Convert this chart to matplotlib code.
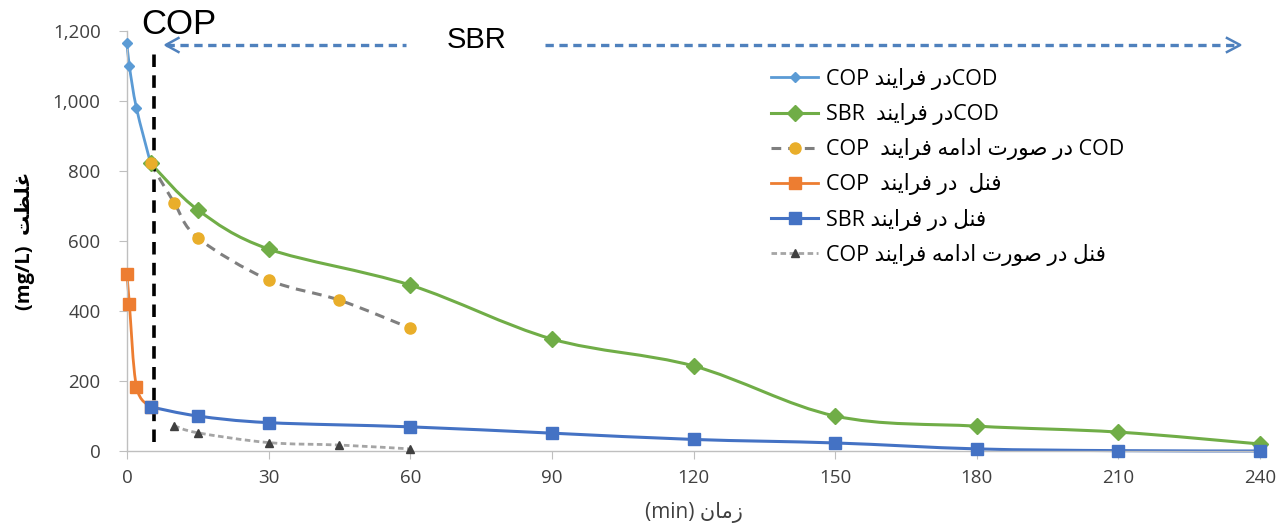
import numpy as np
import matplotlib
matplotlib.use("Agg")
import matplotlib.pyplot as plt
from matplotlib.path import Path
from matplotlib.patches import PathPatch
from matplotlib.lines import Line2D
from matplotlib.ticker import FuncFormatter

plt.rcParams['font.family'] = ['Open Sans', 'DejaVu Sans']
plt.rcParams['lines.scale_dashes'] = False

# Arabic words in presentation forms, visual (left-to-right) order
DAR = "\uFEAD\uFEA9"
FARAYAND = "\uFEAA\uFEE8\uFEF3\uFE8D\uFEAE\uFED3"
FENOL = "\uFEDE\uFEE8\uFED3"
SURAT = "\uFE95\uFEAD\uFEEE\uFEBB"
EDAME = "\uFEEA\uFEE3\uFE8D\uFEA9\uFE8D"
GHELZAT = "\uFE96\uFEC8\uFEE0\uFECF"
ZAMAN = "\uFEE5\uFE8E\uFEE3\uFEAF"

# data (time in min, concentration mg/L)
cod_cop_x = [0, 0.5, 2, 5]
cod_cop_y = [1165, 1100, 980, 822]
cod_sbr_x = [5, 15, 30, 60, 90, 120, 150, 180, 210, 240]
cod_sbr_y = [822, 689, 577, 474, 320, 243, 100, 71, 54, 20]
cod_cont_x = [5, 10, 15, 30, 45, 60]
cod_cont_y = [822, 709, 609, 489, 431, 351]
phe_cop_x = [0, 0.5, 2, 5]
phe_cop_y = [505, 421, 184, 126]
phe_sbr_x = [5, 15, 30, 60, 90, 120, 150, 180, 210, 240]
phe_sbr_y = [126, 100, 81, 69, 51, 33, 23, 6, 1, 0]
phe_cont_x = [10, 15, 30, 45, 60]
phe_cont_y = [72, 52, 24, 17, 6]

labels = [
    "COP " + FARAYAND + " " + DAR + "COD",
    "SBR  " + FARAYAND + " " + DAR + "COD",
    "COP  " + FARAYAND + " " + EDAME + " " + SURAT + " " + DAR + " COD",
    "COP  " + FARAYAND + " " + DAR + "  " + FENOL,
    "SBR " + FARAYAND + " " + DAR + " " + FENOL,
    "COP " + FARAYAND + " " + EDAME + " " + SURAT + " " + DAR + " " + FENOL,
]


def smooth_path(xs, ys):
    pts = np.column_stack([xs, ys]).astype(float)
    n = len(pts)
    verts = [pts[0]]
    codes = [Path.MOVETO]
    for i in range(n - 1):
        p0 = pts[max(i - 1, 0)]
        p1 = pts[i]
        p2 = pts[i + 1]
        p3 = pts[min(i + 2, n - 1)]
        verts += [p1 + (p2 - p0) / 6, p2 - (p3 - p1) / 6, p2]
        codes += [Path.CURVE4] * 3
    return Path(verts, codes)


fig = plt.figure(figsize=(12.77, 5.27), dpi=100)
ax = fig.add_axes([127 / 1277, 76 / 527, 1133 / 1277, 420 / 527])

series = [
    (cod_cop_x, cod_cop_y, dict(color="#5B9BD5", lw=2.0, ls="-"),
     dict(marker="D", ms=5, mfc="#5B9BD5", mec="#5B9BD5")),
    (cod_sbr_x, cod_sbr_y, dict(color="#70AD47", lw=2.2, ls="-"),
     dict(marker="D", ms=8, mfc="#70AD47", mec="#70AD47")),
    (cod_cont_x, cod_cont_y, dict(color="#7F7F7F", lw=2.2, ls=(0, (7, 5))),
     dict(marker="o", ms=8, mfc="#E9AE2A", mec="#E9AE2A")),
    (phe_cop_x, phe_cop_y, dict(color="#ED7D31", lw=2.0, ls="-"),
     dict(marker="s", ms=8, mfc="#ED7D31", mec="#ED7D31")),
    (phe_sbr_x, phe_sbr_y, dict(color="#4472C4", lw=2.2, ls="-"),
     dict(marker="s", ms=8, mfc="#4472C4", mec="#4472C4")),
    (phe_cont_x, phe_cont_y, dict(color="#A5A5A5", lw=2.0, ls=(0, (4, 2.5))),
     dict(marker="^", ms=6, mfc="#404040", mec="#404040")),
]

handles = []
for xs, ys, lstyle, mstyle in series:
    patch = PathPatch(smooth_path(xs, ys), fill=False, edgecolor=lstyle["color"],
                      lw=lstyle["lw"], linestyle=lstyle["ls"], clip_on=False,
                      capstyle="butt")
    ax.add_patch(patch)
    ax.plot(xs, ys, linestyle="none", clip_on=False, zorder=3, **mstyle)
    handles.append(Line2D([], [], color=lstyle["color"], lw=lstyle["lw"],
                          linestyle=lstyle["ls"], **mstyle))

ax.set_xlim(0, 240)
ax.set_ylim(0, 1200)
ax.set_xticks(np.arange(0, 241, 30))
ax.set_yticks(np.arange(0, 1201, 200))
ax.yaxis.set_major_formatter(FuncFormatter(lambda v, p: f"{int(v):,}"))

for s in ["top", "right"]:
    ax.spines[s].set_visible(False)
for s in ["left", "bottom"]:
    ax.spines[s].set_color("#BFBFBF")
    ax.spines[s].set_linewidth(1.0)
ax.tick_params(axis="both", colors="#BFBFBF", labelcolor="#404040",
               labelsize=13.5, length=6, direction="out")
ax.tick_params(axis="y", pad=13)
ax.tick_params(axis="x", pad=7)

ax.set_xlabel("(min) " + ZAMAN, fontsize=15, color="#404040", labelpad=11)
ax.set_ylabel("(mg/L)  " + GHELZAT, fontsize=14.5, fontweight="bold",
              color="#000000", labelpad=13)

# COP / SBR zone markers
ax.plot([5.7, 5.7], [27, 1140], color="black", lw=2.6, ls=(0, (9, 6)), clip_on=False)
ax.text(11, 1218, "COP", fontsize=25, family=["Liberation Sans", "DejaVu Sans"],
        ha="center", va="center", clip_on=False)
ax.text(74, 1175, "SBR", fontsize=21, family=["Liberation Sans", "DejaVu Sans"],
        ha="center", va="center")
arrow_col = "#4F81BD"
ax.plot([8.2, 59], [1160, 1160], color=arrow_col, lw=2.4, ls=(0, (6, 4)))
ax.plot([88.6, 235.6], [1160, 1160], color=arrow_col, lw=2.4, ls=(0, (6, 4)))
ax.plot([10.9, 8.2, 10.9], [1180, 1160, 1140], color=arrow_col, lw=1.8)
ax.plot([233, 235.8, 233], [1180, 1160, 1140], color=arrow_col, lw=1.8)

ax.legend(handles, labels, loc="upper left", bbox_to_anchor=(771 / 1277, 1 - 68 / 527),
          bbox_transform=fig.transFigure, frameon=False, fontsize=15.5,
          handlelength=2.2, handletextpad=0.37, labelspacing=0.61,
          borderpad=0, borderaxespad=0)

fig.savefig("out.png", dpi=100)
